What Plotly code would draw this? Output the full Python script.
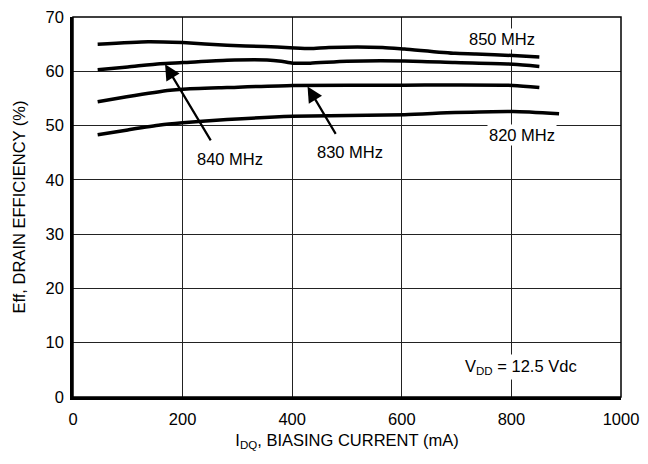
import plotly.graph_objects as go

# ---- data ----
x850 = [45, 137, 200, 281, 350, 396, 433, 467, 565, 605, 697, 735, 803, 851]
y850 = [64.97, 65.45, 65.28, 64.8, 64.55, 64.35, 64.2, 64.4, 64.4, 64.1, 63.3, 63.2, 62.9, 62.65]

x840 = [45, 100, 159, 200, 281, 354, 380, 401, 433, 500, 605, 697, 803, 851]
y840 = [60.3, 60.8, 61.4, 61.6, 62.05, 62.1, 61.85, 61.5, 61.5, 61.85, 61.9, 61.6, 61.3, 60.9]

x830 = [45, 98, 177, 200, 281, 401, 605, 803, 851]
y830 = [54.4, 55.3, 56.5, 56.7, 57.0, 57.4, 57.45, 57.4, 57.0]

x820 = [45, 100, 159, 200, 281, 401, 605, 697, 803, 887]
y820 = [48.3, 49.2, 50.1, 50.5, 51.1, 51.7, 52.0, 52.4, 52.6, 52.2]

series = [("850 MHz", x850, y850), ("840 MHz", x840, y840),
          ("830 MHz", x830, y830), ("820 MHz", x820, y820)]

# labels: text, x, y
labels = [("850 MHz", 783, 66.0), ("820 MHz", 819, 48.2),
          ("840 MHz", 287, 43.9), ("830 MHz", 506, 45.2)]
# arrows: tail x, tail y, tip x, tip y
arrows = [(253, 47.0, 168, 61.3), (481, 48.2, 428, 57.2)]

vdd_text = "V<sub>DD</sub> = 12.5 Vdc"
vdd_pos = (818, 5.5)

x_ticks = [0, 200, 400, 600, 800, 1000]
y_ticks = [0, 10, 20, 30, 40, 50, 60, 70]

FONT = "Liberation Sans, Arial, sans-serif"
FS = 16.5

fig = go.Figure()
for name, xs, ys in series:
    fig.add_trace(go.Scatter(x=xs, y=ys, mode="lines", name=name,
                             line=dict(color="black", width=3.5, shape="spline", smoothing=0.6),
                             showlegend=False, hoverinfo="skip"))

anns = []
for t, x, y in labels:
    anns.append(dict(x=x, y=y, xref="x", yref="y", text=t, showarrow=False,
                     font=dict(size=FS, color="black", family=FONT),
                     bgcolor="white", borderpad=1))
for sx, sy, tx, ty in arrows:
    anns.append(dict(x=tx, y=ty, ax=sx, ay=sy, xref="x", yref="y", axref="x", ayref="y",
                     text="", showarrow=True, arrowhead=2, arrowsize=1.4, arrowwidth=2.2,
                     arrowcolor="black", standoff=0))
anns.append(dict(x=vdd_pos[0], y=vdd_pos[1], xref="x", yref="y", text=vdd_text, showarrow=False,
                 font=dict(size=FS, color="black", family=FONT), bgcolor="white", borderpad=2))

fig.update_layout(
    width=632, height=448,
    margin=dict(l=65, r=19, t=9, b=59, autoexpand=False),
    paper_bgcolor="white", plot_bgcolor="white",
    font=dict(family=FONT, size=FS, color="black"),
    annotations=anns,
    shapes=[dict(type="rect", xref="paper", yref="paper", x0=0, y0=0, x1=1, y1=1,
                 line=dict(color="black", width=1.5), layer="above")],
)
fig.update_xaxes(range=[0, 1000], tickvals=x_ticks, showgrid=True, gridcolor="#222", gridwidth=1,
                 showline=True, linecolor="black", linewidth=2.5, zeroline=False,
                 ticks="outside", ticklen=5, tickcolor="rgba(0,0,0,0)",
                 tickfont=dict(size=FS), ticklabeloverflow="allow", automargin=False,
                 title=dict(text="I<sub>DQ</sub>, BIASING CURRENT (mA)", font=dict(size=FS), standoff=8))
fig.update_yaxes(range=[0, 70], tickvals=y_ticks, showgrid=True, gridcolor="#222", gridwidth=1,
                 showline=True, linecolor="black", linewidth=2.5, zeroline=False,
                 ticks="outside", ticklen=3, tickcolor="rgba(0,0,0,0)",
                 tickfont=dict(size=FS), ticklabeloverflow="allow", automargin=False,
                 title=dict(text="Eff, DRAIN EFFICIENCY (%)", font=dict(size=FS), standoff=16))

fig.write_html("out.html")
